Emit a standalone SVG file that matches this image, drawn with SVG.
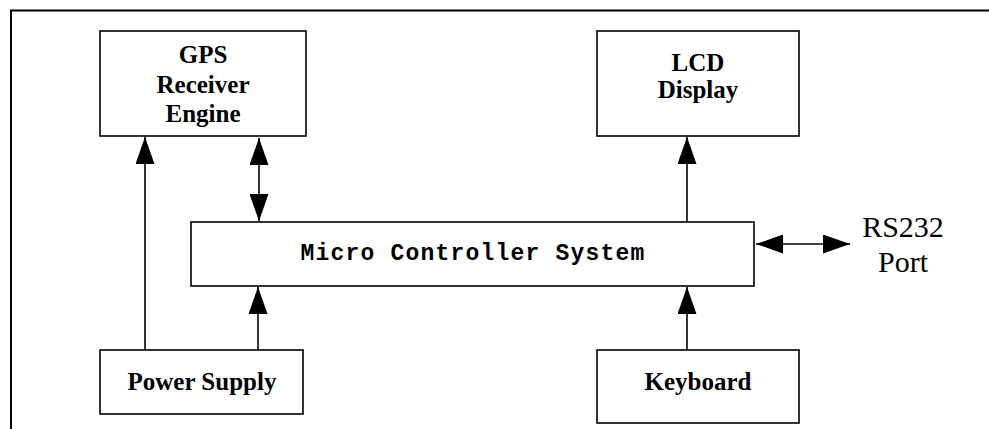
<svg xmlns="http://www.w3.org/2000/svg" width="989" height="429" viewBox="0 0 989 429">
  <style>
    .box { fill: #ffffff; stroke: #000000; stroke-width: 1.6; }
    .frame { fill: none; stroke: #000000; stroke-width: 2; }
    .wire { fill: none; stroke: #000000; stroke-width: 1.6; }
    .label { font-family: "Liberation Serif", "Times New Roman", serif; font-weight: bold; font-size: 25px; fill: #000; text-anchor: middle; }
    .mono { font-family: "Liberation Mono", "Courier New", monospace; font-weight: bold; font-size: 23px; letter-spacing: 1.2px; fill: #000; text-anchor: middle; }
    .plain { font-family: "Liberation Serif", "Times New Roman", serif; font-size: 30px; fill: #000; text-anchor: middle; }
  </style>
  <defs>
    <marker id="head" viewBox="0 0 27 19" refX="27" refY="9.5" markerWidth="27" markerHeight="19" markerUnits="userSpaceOnUse" orient="auto-start-reverse">
      <path d="M0,0 L27,9.5 L0,19 Z" fill="#000"/>
    </marker>
  </defs>

  <rect width="989" height="429" fill="#ffffff"/>

  <!-- outer frame -->
  <path class="frame" d="M11 429 V10.5 H989"/>

  <g id="gps">
    <rect class="box" x="100" y="31" width="206" height="105"/>
    <text class="label" x="203" y="63">GPS</text>
    <text class="label" x="203" y="93">Receiver</text>
    <text class="label" x="203" y="122">Engine</text>
  </g>

  <g id="lcd">
    <rect class="box" x="597" y="31" width="202" height="105"/>
    <text class="label" x="698" y="71">LCD</text>
    <text class="label" x="698" y="98">Display</text>
  </g>

  <g id="mcu">
    <rect class="box" x="191" y="222" width="563" height="64"/>
    <text class="mono" x="473" y="260">Micro Controller System</text>
  </g>

  <g id="rs232">
    <text class="plain" x="903" y="237">RS232</text>
    <text class="plain" x="903" y="272">Port</text>
  </g>

  <g id="power">
    <rect class="box" x="100" y="350" width="203" height="64"/>
    <text class="label" x="202" y="390">Power Supply</text>
  </g>

  <g id="keyboard">
    <rect class="box" x="597" y="350" width="202" height="73"/>
    <text class="label" x="698" y="390">Keyboard</text>
  </g>

  <g id="connectors">
    <!-- power supply to GPS engine -->
    <line class="wire" x1="145" y1="350" x2="145" y2="137" marker-end="url(#head)"/>
    <!-- GPS engine <-> controller -->
    <line class="wire" x1="259" y1="138" x2="259" y2="221" marker-start="url(#head)" marker-end="url(#head)"/>
    <!-- power supply to controller -->
    <line class="wire" x1="258" y1="350" x2="258" y2="287" marker-end="url(#head)"/>
    <!-- controller to LCD -->
    <line class="wire" x1="687" y1="222" x2="687" y2="137" marker-end="url(#head)"/>
    <!-- keyboard to controller -->
    <line class="wire" x1="687" y1="350" x2="687" y2="287" marker-end="url(#head)"/>
    <!-- controller <-> RS232 -->
    <line class="wire" x1="756" y1="244" x2="850" y2="244" marker-start="url(#head)" marker-end="url(#head)"/>
  </g>
</svg>
